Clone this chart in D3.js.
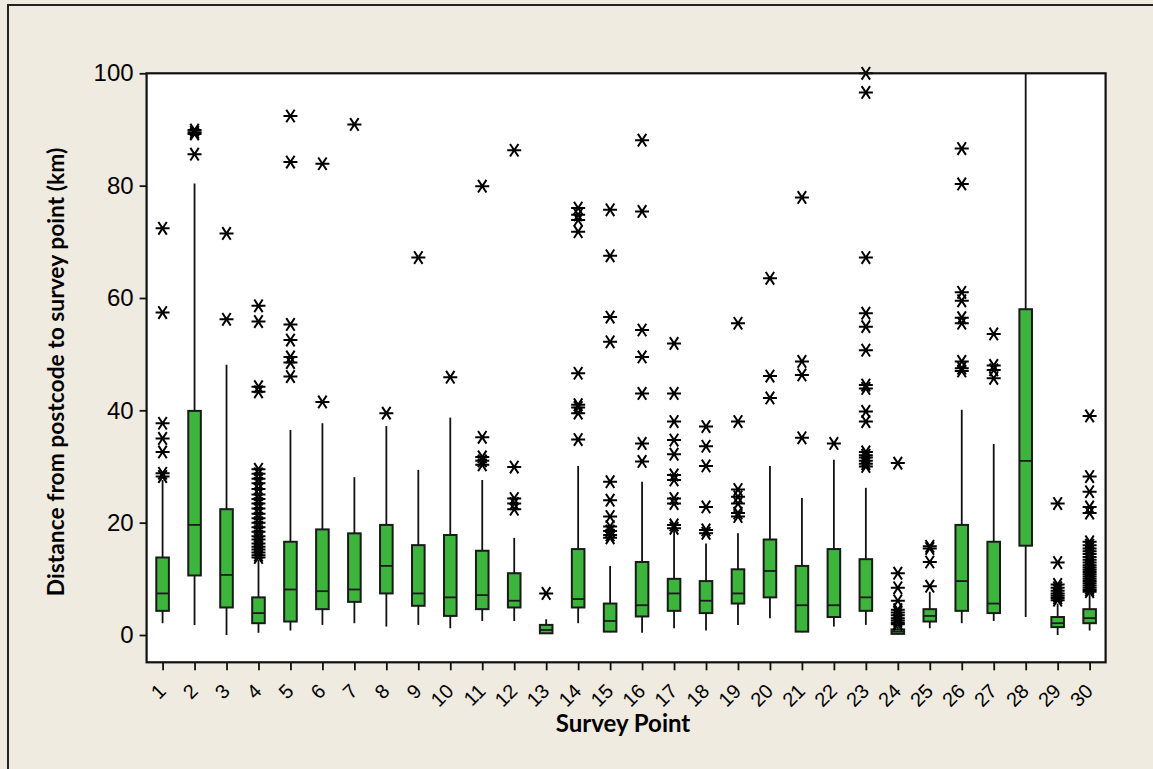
<!DOCTYPE html>
<html><head><meta charset="utf-8">
<script src="https://cdn.jsdelivr.net/npm/d3@7"></script>
<style>html,body{margin:0;padding:0;background:#efebe0;}svg{display:block}</style>
</head><body>
<svg id="chart" width="1153" height="769"></svg>
<script>
const categories = d3.range(1, 31).map(String);
const whiskerLow  = [2.1,1.8,0.0,0.4,0.8,1.8,2.1,1.5,1.8,1.2,2.5,2.5,0.3,2.1,0.5,0.4,1.2,0.8,1.8,3.0,0.5,1.5,1.8,0.1,1.2,2.1,2.5,3.2,0.0,0.8];
const q1          = [4.3,10.6,4.9,2.1,2.4,4.6,5.9,7.4,5.2,3.4,4.6,4.9,0.3,4.9,0.6,3.3,4.3,3.9,5.6,6.7,0.6,3.2,4.3,0.2,2.4,4.3,3.9,15.9,1.4,2.1];
const median      = [7.4,19.6,10.7,3.9,8.1,7.8,8.1,12.3,7.4,6.7,7.1,6.1,0.9,6.4,2.5,5.3,7.4,6.1,7.4,11.4,5.3,5.3,6.7,0.6,3.4,9.6,5.6,31.0,2.1,3.0];
const q3          = [13.8,39.9,22.4,6.7,16.6,18.8,18.1,19.6,16.0,17.8,15.0,11.0,1.8,15.3,5.6,13.0,10.0,9.6,11.7,17.0,12.3,15.3,13.5,1.0,4.6,19.6,16.6,58.0,3.2,4.6];
const whiskerHigh = [27.6,80.4,48.1,13.4,36.5,37.7,28.1,37.2,29.4,38.7,27.6,17.3,2.8,30.1,12.3,27.3,19.3,16.3,18.1,30.1,24.4,31.2,26.2,1.5,7.7,40.1,34.0,100,5.6,7.4];
const outliers = [
  [72.4,57.4,37.7,35.0,32.6,28.8,28.2],
  [89.9,89.5,89.2,85.6],
  [71.5,56.2],
  [58.6,55.8,44.2,43.3,29.5,28.7,27.8,27.0,26.0,25.0,24.2,23.4,22.5,21.6,20.8,20.0,19.2,18.4,17.6,17.0,16.3,15.7,15.2,14.7,14.2,13.8],
  [92.4,84.2,55.3,52.5,49.5,48.5,46.0],
  [83.9,41.5],
  [90.9],
  [39.5],
  [67.2],
  [45.9],
  [79.9,35.2,31.7,31.0,30.3],
  [86.3,29.9,24.3,23.4,22.4],
  [7.4],
  [76.0,74.8,73.9,71.8,46.6,41.0,40.5,39.5,34.8],
  [75.7,67.5,56.6,52.2,27.3,24.0,21.1,19.3,18.5,17.8,17.3],
  [88.1,75.4,54.3,49.5,43.0,34.1,30.9],
  [51.9,43.0,38.0,34.7,32.2,28.5,27.6,24.3,23.4,19.6,19.0],
  [37.1,33.6,30.1,22.8,18.7,18.1],
  [55.5,38.0,25.9,24.6,23.4,21.7,21.1],
  [63.5,46.1,42.2],
  [77.9,48.7,46.3,35.1],
  [34.1],
  [100,96.6,67.2,57.3,54.9,50.7,44.5,43.9,39.8,38.0,32.6,32.0,31.6,31.0,30.5,30.0],
  [30.6,11.0,8.4,6.1,4.5,4.0,3.5,3.0,2.6,2.2,1.9],
  [15.8,15.4,13.0,8.7],
  [86.6,80.3,61.0,59.5,56.5,55.5,48.7,47.5,47.0],
  [53.6,48.0,47.2,45.7],
  [],
  [23.4,12.9,9.0,8.4,7.9,7.4,7.0,6.6,6.2],
  [39.0,28.2,25.5,22.8,21.7,16.6,16.0,15.4,14.9,14.4,13.9,13.4,12.9,12.4,12.0,11.6,11.2,10.8,10.4,10.0,9.6,9.2,8.8,8.4,8.0,7.7]
];
const yTicks = [0,20,40,60,80,100];
const xTitle = "Survey Point";
const yTitle = "Distance from postcode to survey point (km)";

const svg = d3.select("#chart");
const P = {left:146.6, right:1105.6, top:73.3, bottom:662.3};

svg.append("rect").attr("x",8).attr("y",5).attr("width",1160).attr("height",780)
  .attr("fill","#efebe0").attr("stroke","#222").attr("stroke-width",2);
svg.append("rect").attr("x",P.left).attr("y",P.top).attr("width",P.right-P.left).attr("height",P.bottom-P.top)
  .attr("fill","#fff");

const x = d3.scalePoint().domain(categories).range([P.left,P.right]).padding(0.5);
const y = d3.scaleLinear().domain([-4.86,100]).range([P.bottom,P.top]);

const data = categories.map((c,i)=>({c, lo:whiskerLow[i], q1:q1[i], med:median[i], q3:q3[i], hi:whiskerHigh[i], out:outliers[i]}));
const bw = 12.6;

const plot = svg.append("g");
plot.selectAll(".wh").data(data).join("line")
  .attr("x1",d=>x(d.c)).attr("x2",d=>x(d.c))
  .attr("y1",d=>y(d.lo)).attr("y2",d=>y(d.hi))
  .attr("stroke","#111").attr("stroke-width",1.8);
plot.selectAll(".bx").data(data).join("rect")
  .attr("x",d=>x(d.c)-bw/2).attr("width",bw)
  .attr("y",d=>y(d.q3)).attr("height",d=>Math.max(1,y(d.q1)-y(d.q3)))
  .attr("fill","#3db53d").attr("stroke","#1a1a1a").attr("stroke-width",2);
plot.selectAll(".md").data(data).join("line")
  .attr("x1",d=>x(d.c)-bw/2).attr("x2",d=>x(d.c)+bw/2)
  .attr("y1",d=>y(d.med)).attr("y2",d=>y(d.med))
  .attr("stroke","#1a1a1a").attr("stroke-width",1.8);

// outliers as asterisks
const r = 7;
const star = `M${-r},0L${r},0M${-r*0.6},${-r*0.9}L${r*0.6},${r*0.9}M${-r*0.6},${r*0.9}L${r*0.6},${-r*0.9}`;
const pts = data.flatMap(d=>d.out.map(v=>({c:d.c,v})));
plot.selectAll(".ol").data(pts).join("path")
  .attr("d",star).attr("transform",d=>`translate(${x(d.c)},${y(d.v)})`)
  .attr("fill","none").attr("stroke","#000").attr("stroke-width",2);

svg.append("rect").attr("x",P.left).attr("y",P.top).attr("width",P.right-P.left).attr("height",P.bottom-P.top)
  .attr("fill","none").attr("stroke","#111").attr("stroke-width",2.2);

const yAxis = svg.append("g").attr("transform",`translate(${P.left},0)`)
  .call(d3.axisLeft(y).tickValues(yTicks).tickSize(7).tickPadding(6).tickSizeOuter(0));
yAxis.select(".domain").remove();
yAxis.selectAll("line").attr("stroke","#111").attr("stroke-width",1.8);
yAxis.selectAll("text").attr("font-family","'Liberation Sans', Arial, sans-serif").attr("font-size",24).attr("fill","#000");

const xAxis = svg.append("g").attr("transform",`translate(0,${P.bottom})`)
  .call(d3.axisBottom(x).tickSize(8).tickSizeOuter(0));
xAxis.select(".domain").remove();
xAxis.selectAll("line").attr("stroke","#111").attr("stroke-width",1.8);
xAxis.selectAll("text")
  .attr("font-family","'Liberation Sans', Arial, sans-serif").attr("font-size",20).attr("fill","#000")
  .attr("text-anchor","end").attr("dy",0).attr("y",0)
  .attr("transform","translate(4,30) rotate(-45)");

svg.append("text").attr("x",623).attr("y",732).attr("text-anchor","middle")
  .attr("font-family","Lato, 'Open Sans', sans-serif").attr("font-weight","bold").attr("font-size",24)
  .text(xTitle);
svg.append("text").attr("transform","translate(64,372) rotate(-90)").attr("text-anchor","middle")
  .attr("font-family","Lato, 'Open Sans', sans-serif").attr("font-weight","bold").attr("font-size",22.8)
  .text(yTitle);
</script>
</body></html>
